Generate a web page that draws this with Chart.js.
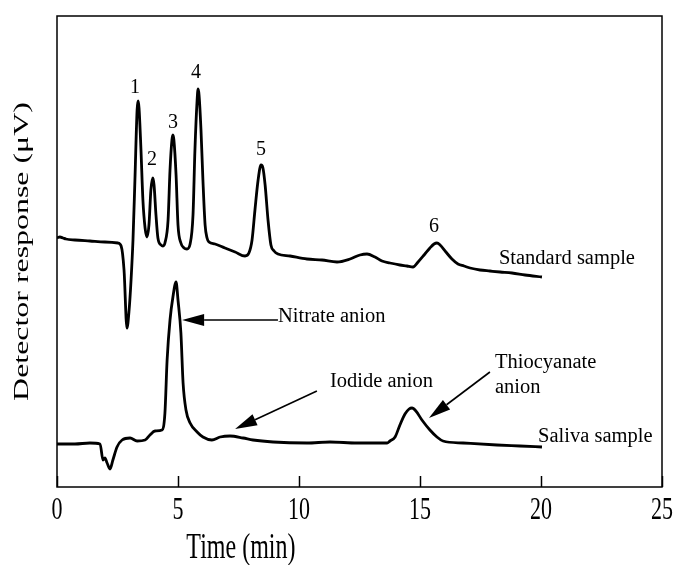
<!DOCTYPE html>
<html>
<head>
<meta charset="utf-8">
<script src="https://cdn.jsdelivr.net/npm/chart.js@4/dist/chart.umd.min.js"></script>
<style>
  html, body { margin: 0; padding: 0; background: #ffffff; }
  #wrap { width: 677px; height: 565px; position: relative; }
</style>
</head>
<body>
<div id="wrap"><canvas id="chart"></canvas></div>
<script>
// Retention time axis ticks (min)
const timeTicks = [0, 5, 10, 15, 20, 25];
const timeTickLabels = ['0', '5', '10', '15', '20', '25'];

// Standard sample trace: time (min) and detector response (arbitrary µV, offset trace)
const stdTime = [0, 0.12, 0.25, 0.37, 0.74, 1.36, 1.98, 2.52, 2.65, 2.77, 2.89, 2.98, 3.06, 3.14, 3.22, 3.31, 3.35, 3.39, 3.47, 3.55, 3.64, 3.72, 3.80, 3.88, 3.96, 4.01, 4.09, 4.17, 4.30, 4.38, 4.46, 4.59, 4.67, 4.75, 4.79, 4.83, 4.92, 5.00, 5.12, 5.25, 5.37, 5.50, 5.62, 5.70, 5.79, 5.83, 5.87, 5.95, 6.03, 6.12, 6.20, 6.28, 6.53, 6.94, 7.36, 7.77, 7.93, 8.06, 8.18, 8.31, 8.43, 8.51, 8.60, 8.72, 8.84, 8.97, 9.13, 9.63, 10.33, 10.95, 11.57, 12.11, 12.52, 12.81, 13.14, 13.43, 13.76, 14.17, 14.46, 14.71, 14.92, 15.17, 15.41, 15.58, 15.70, 15.83, 16.07, 16.32, 16.57, 16.82, 17.07, 17.48, 17.89, 18.31, 18.80, 19.34, 20.04];
const stdResponse = [249, 250, 249, 248, 247, 246, 245, 244, 241, 217, 159, 177, 207, 247, 307, 377, 386, 379, 337, 287, 259, 250, 262, 297, 309, 302, 272, 249, 242, 241, 244, 267, 317, 347, 352, 347, 312, 262, 244, 239, 238, 243, 272, 337, 387, 398, 392, 357, 307, 262, 249, 245, 243, 239, 235, 231, 234, 247, 277, 307, 322, 319, 302, 267, 242, 236, 233, 231, 228, 227, 225, 228, 232, 233, 230, 226, 224, 222, 221, 220, 225, 232, 239, 243, 244, 242, 235, 228, 223, 221, 219, 217, 216, 215, 214, 212, 210];

// Saliva sample trace
const salTime = [0, 0.74, 1.36, 1.78, 1.90, 1.98, 2.07, 2.19, 2.31, 2.48, 2.69, 3.02, 3.31, 3.64, 3.84, 4.05, 4.34, 4.46, 4.55, 4.67, 4.79, 4.92, 5.00, 5.12, 5.21, 5.33, 5.50, 5.79, 6.03, 6.40, 6.74, 7.15, 7.69, 8.10, 8.93, 10.33, 11.28, 12.40, 13.64, 13.76, 13.97, 14.17, 14.38, 14.55, 14.67, 14.83, 15.08, 15.41, 15.70, 15.95, 16.78, 18.18, 19.13, 20.04];
const salResponse = [43, 43, 44, 43, 27, 29, 24, 18, 27, 40, 47, 49, 46, 47, 52, 56, 57, 74, 127, 167, 190, 205, 187, 154, 104, 77, 64, 55, 50, 47, 50, 51, 49, 47, 45, 44, 45, 44, 44, 46, 50, 62, 73, 78, 79, 76, 67, 57, 50, 46, 44, 42, 41, 40];

// Peak numbers of the standard trace and where their labels sit (time, response)
const peakNumbers = ['1', '2', '3', '4', '5', '6'];
const peakLabelTime = [3.22, 3.93, 4.79, 5.74, 8.43, 15.58];
const peakLabelLevel = [399, 327, 364, 414, 337, 260];

const SERIF = '"Liberation Serif", "Times New Roman", serif';
const INK = '#000000';
// axis lettering is set tall and narrow
const AXIS_TEXT_STRETCH = 1.45;

function toXY(xs, ys) { return xs.map((x, i) => ({ x: x, y: ys[i] })); }

// Text notes placed in data coordinates (time, response)
const notes = [
  { text: 'Standard sample', t: 18.26, v: 228 },
  { text: 'Saliva sample', t: 19.88, v: 50 },
  { text: 'Nitrate anion', t: 9.13, v: 170 },
  { text: 'Iodide anion', t: 11.28, v: 105 },
  { text: 'Thiocyanate', t: 18.10, v: 124 },
  { text: 'anion', t: 18.10, v: 99 }
];
// Arrows: from tail to tip, in data coordinates
const arrows = [
  { t0: 9.13, v0: 167, t1: 5.17, v1: 167 },
  { t0: 10.74, v0: 96, t1: 7.36, v1: 58 },
  { t0: 17.89, v0: 115, t1: 15.37, v1: 69 }
];

function tallText(ctx, text, x, y, rotate) {
  ctx.save();
  ctx.translate(x, y);
  if (rotate) {
    ctx.rotate(-Math.PI / 2);
    ctx.scale(AXIS_TEXT_STRETCH, 1);
  } else {
    ctx.scale(1, AXIS_TEXT_STRETCH);
  }
  ctx.fillText(text, 0, 0);
  ctx.restore();
}

const decorations = {
  id: 'decorations',
  afterDraw(chart) {
    const { ctx, chartArea: a, scales: { x, y } } = chart;
    ctx.save();
    // frame
    ctx.strokeStyle = INK;
    ctx.lineWidth = 1.5;
    ctx.strokeRect(a.left, a.top, a.right - a.left, a.bottom - a.top);
    // inward tick marks and their labels on the time axis
    ctx.fillStyle = INK;
    ctx.textAlign = 'center';
    ctx.textBaseline = 'middle';
    ctx.font = '22px ' + SERIF;
    timeTicks.forEach((t, i) => {
      const px = Math.round(x.getPixelForValue(t)) + 0.5;
      ctx.beginPath();
      ctx.moveTo(px, a.bottom);
      ctx.lineTo(px, a.bottom - 11);
      ctx.stroke();
      tallText(ctx, timeTickLabels[i], x.getPixelForValue(t), a.bottom + 24, false);
    });
    // axis titles
    ctx.font = '24px ' + SERIF;
    tallText(ctx, 'Time (min)', x.getPixelForValue(7.6), 549, false);
    ctx.font = '22px ' + SERIF;
    tallText(ctx, 'Detector response (μV)', 22, (a.top + a.bottom) / 2, true);

    // peak numbers
    ctx.font = '20px ' + SERIF;
    peakNumbers.forEach((n, i) => {
      ctx.fillText(n, x.getPixelForValue(peakLabelTime[i]), y.getPixelForValue(peakLabelLevel[i]));
    });
    // notes
    ctx.textAlign = 'left';
    ctx.font = '20.5px ' + SERIF;
    notes.forEach(n => {
      ctx.fillText(n.text, x.getPixelForValue(n.t), y.getPixelForValue(n.v));
    });
    // arrows
    ctx.lineWidth = 1.6;
    arrows.forEach(ar => {
      const x0 = x.getPixelForValue(ar.t0), y0 = y.getPixelForValue(ar.v0);
      const x1 = x.getPixelForValue(ar.t1), y1 = y.getPixelForValue(ar.v1);
      const ang = Math.atan2(y1 - y0, x1 - x0);
      const len = 22, half = 6;
      const bx = x1 - len * Math.cos(ang), by = y1 - len * Math.sin(ang);
      ctx.beginPath();
      ctx.moveTo(x0, y0);
      ctx.lineTo(bx, by);
      ctx.stroke();
      ctx.beginPath();
      ctx.moveTo(x1, y1);
      ctx.lineTo(bx + half * Math.sin(ang), by - half * Math.cos(ang));
      ctx.lineTo(bx - half * Math.sin(ang), by + half * Math.cos(ang));
      ctx.closePath();
      ctx.fill();
    });
    ctx.restore();
  }
};

new Chart(document.getElementById('chart'), {
  type: 'scatter',
  data: {
    datasets: [
      { label: 'Standard sample', data: toXY(stdTime, stdResponse) },
      { label: 'Saliva sample', data: toXY(salTime, salResponse) }
    ]
  },
  options: {
    responsive: true,
    maintainAspectRatio: false,
    animation: false,
    showLine: true,
    layout: { padding: { left: 57, right: 15, top: 16, bottom: 78 } },
    elements: {
      point: { radius: 0, hoverRadius: 0 },
      line: { borderColor: INK, borderWidth: 2.8, cubicInterpolationMode: 'monotone', fill: false }
    },
    plugins: { legend: { display: false }, tooltip: { enabled: false } },
    scales: {
      x: { type: 'linear', min: 0, max: 25, display: false },
      y: { type: 'linear', min: 0, max: 471, display: false }
    }
  },
  plugins: [decorations]
});
</script>
</body>
</html>
